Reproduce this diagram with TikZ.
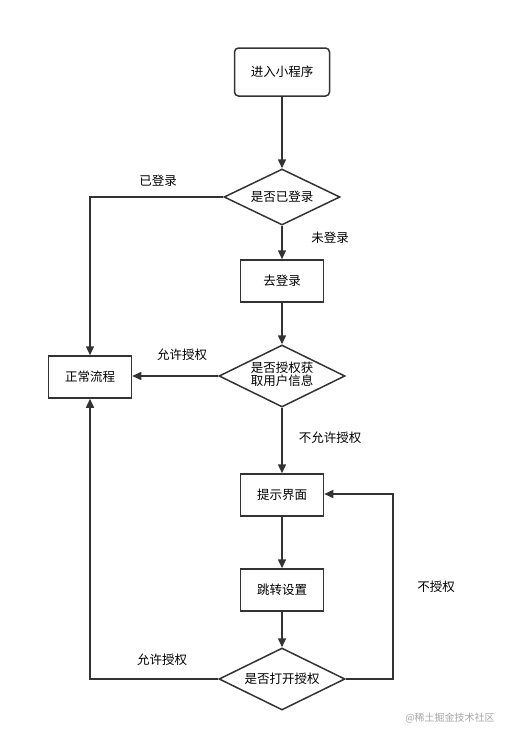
\documentclass[tikz,border=0pt]{standalone}
\usepackage{fontspec}
\setmainfont{Noto Sans CJK SC}
\usetikzlibrary{shapes.geometric,arrows.meta}
\definecolor{ln}{HTML}{333333}
\begin{document}
\begin{tikzpicture}[x=1pt,y=-1pt,
  every node/.style={font=\fontsize{12.5}{15}\selectfont, text=black},
  box/.style={draw=ln, line width=1.5pt, minimum width=83pt, minimum height=42pt, inner sep=0pt},
  dia/.style={draw=ln, line width=1.5pt, diamond, minimum width=126pt, minimum height=62pt, inner sep=0pt, aspect=2},
  conn/.style={draw=ln, line width=1.5pt, -{Triangle[length=9pt,width=8pt]}},
  lbl/.style={inner sep=0pt}]
\useasboundingbox (0,0) rectangle (510,742);
\node[box, rounded corners=4pt, minimum width=95pt, minimum height=48pt] (start) at (282,72) {进入小程序};
\node[dia, minimum width=116pt, minimum height=56pt] (d1) at (282,197) {是否已登录};
\node[box] (login) at (282,281) {去登录};
\node[dia] (d2) at (282,376) {\begin{tabular}{@{}c@{}}是否授权获\\[-3pt]取用户信息\end{tabular}};
\node[box] (normal) at (90,377) {正常流程};
\node[box] (tip) at (282,495) {提示界面};
\node[box] (set) at (282,590) {跳转设置};
\node[dia] (d3) at (282,679) {是否打开授权};
\coordinate (c1) at (90,197);
\coordinate (c2) at (90,679);
\coordinate (c3) at (393,679);
\coordinate (c4) at (393,494);
\draw[conn] (start.south) -- (d1.north);
\draw[conn] (d1.west) -- (c1) -- (normal.north);
\draw[conn] (d1.south) -- (login.north);
\draw[conn] (login.south) -- (d2.north);
\draw[conn] (d2.west) -- (d2.west -| normal.east);
\draw[conn] (d2.south) -- (tip.north);
\draw[conn] (tip.south) -- (set.north);
\draw[conn] (set.south) -- (d3.north);
\draw[conn] (d3.west) -- (c2) -- (normal.south);
\draw[conn] (d3.east) -- (c3) -- (c4) -- (tip.east |- c4);
\node[lbl] (l1) at (158,181) {已登录};
\node[lbl] (l2) at (330,238) {未登录};
\node[lbl] (l3) at (182,355) {允许授权};
\node[lbl] (l4) at (330,438) {不允许授权};
\node[lbl] (l5) at (436,587) {不授权};
\node[lbl] (l6) at (162,660) {允许授权};
\node[lbl, text=gray!70, font=\fontsize{10}{12}\selectfont] (wm) at (450,718) {@稀土掘金技术社区};
\end{tikzpicture}
\end{document}
